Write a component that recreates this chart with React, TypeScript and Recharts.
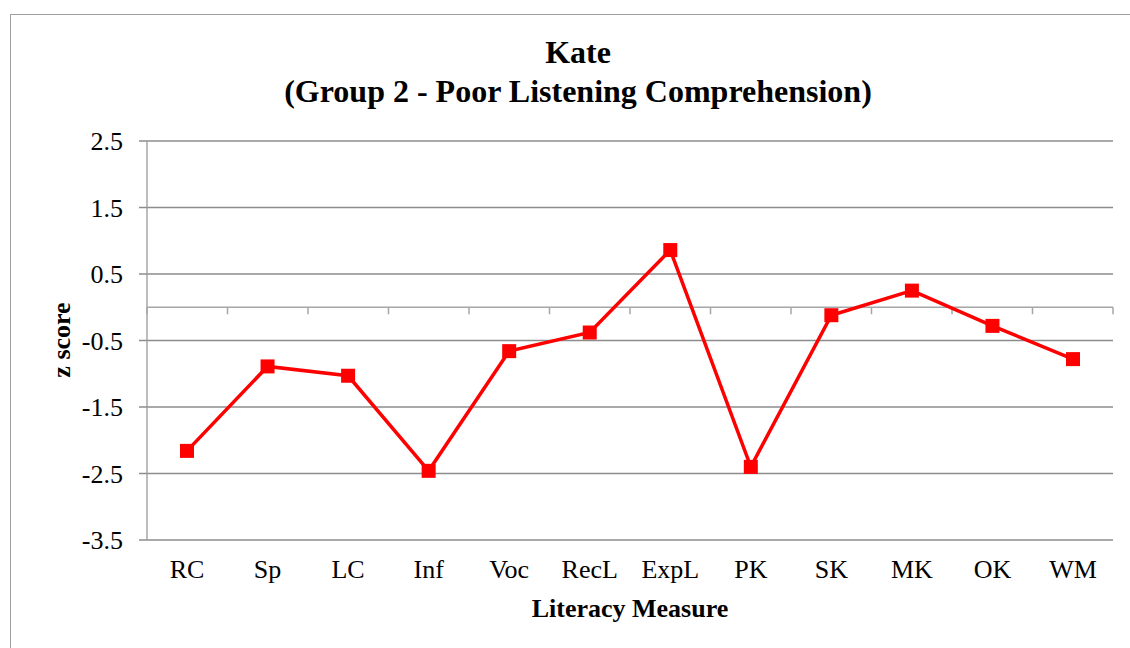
import React from 'react'
import {
  LineChart,
  Line,
  XAxis,
  YAxis,
  CartesianGrid,
  ReferenceLine,
} from 'recharts'

const CATEGORIES = ['RC', 'Sp', 'LC', 'Inf', 'Voc', 'RecL', 'ExpL', 'PK', 'SK', 'MK', 'OK', 'WM']
const Z_SCORES = [-2.16, -0.89, -1.03, -2.46, -0.66, -0.38, 0.86, -2.4, -0.12, 0.25, -0.28, -0.78]
const Y_TICKS = [-3.5, -2.5, -1.5, -0.5, 0.5, 1.5, 2.5]

const FONT = '"Liberation Serif", "Times New Roman", serif'
const GRID = '#8c8c8c'
const AXIS = '#a6a6a6'

const data = CATEGORIES.map((name, i) => ({ name, z: Z_SCORES[i] }))

// square marker
const SquareDot = (props: any) => {
  const { cx, cy } = props
  if (cx == null || cy == null) return null
  const s = 14
  return <rect x={cx - s / 2} y={cy - s / 2} width={s} height={s} fill="#ff0000" />
}

// category axis drawn at z = 0 with tick marks between categories
const ZeroAxis = (props: any) => {
  const { x1, y1, x2 } = props
  const n = CATEGORIES.length
  const step = (x2 - x1) / n
  const ticks = []
  for (let i = 0; i <= n; i++) {
    const x = x1 + step * i
    ticks.push(<line key={i} x1={x} y1={y1} x2={x} y2={y1 + 7} stroke={AXIS} strokeWidth={1.5} />)
  }
  return (
    <g>
      <line x1={x1} y1={y1} x2={x2} y2={y1} stroke={AXIS} strokeWidth={1.5} />
      {ticks}
    </g>
  )
}

export default function App() {
  return (
    <div style={{ position: 'absolute', left: 0, top: 0, width: 1130, height: 648, overflow: 'hidden', background: '#fff', fontFamily: FONT }}>
      <div style={{ position: 'absolute', left: 10, top: 14, width: 1140, height: 700, borderLeft: '1.5px solid #a0a0a0', borderTop: '1.5px solid #a0a0a0' }} />
      <div style={{ position: 'absolute', left: 0, width: 1156, top: 33, textAlign: 'center', fontWeight: 'bold', fontSize: 32, lineHeight: '39px', color: '#000' }}>
        Kate
        <br />
        (Group 2 - Poor Listening Comprehension)
      </div>
      <div style={{ position: 'absolute', left: 147, width: 966, top: 593, textAlign: 'center', fontWeight: 'bold', fontSize: 26, lineHeight: '32px', color: '#000' }}>
        Literacy Measure
      </div>
      <div style={{ position: 'absolute', left: 62, top: 340, transform: 'translate(-50%, -50%) rotate(-90deg)', whiteSpace: 'nowrap', fontWeight: 'bold', fontSize: 26, color: '#000' }}>
        z score
      </div>
      <div style={{ position: 'absolute', left: 0, top: 0 }}>
        <LineChart width={1130} height={648} data={data} margin={{ top: 141, right: 17, bottom: 48, left: 10 }}>
          <CartesianGrid vertical={false} stroke={GRID} strokeWidth={1.5} horizontalValues={Y_TICKS} />
          <XAxis
            dataKey="name"
            axisLine={false}
            tickLine={false}
            tickSize={0}
            tickMargin={20}
            height={60}
            interval={0}
            padding={{ left: 40, right: 40 }}
            tick={{ fill: '#000', fontSize: 26, fontFamily: FONT }}
          />
          <YAxis
            type="number"
            domain={[-3.5, 2.5]}
            ticks={Y_TICKS}
            width={137}
            interval={0}
            tickSize={8}
            tickMargin={16}
            axisLine={{ stroke: AXIS, strokeWidth: 1.5 }}
            tickLine={{ stroke: GRID, strokeWidth: 1.5 }}
            tick={{ fill: '#000', fontSize: 26, fontFamily: FONT }}
          />
          <ReferenceLine y={0} shape={ZeroAxis} />
          <Line
            type="linear"
            dataKey="z"
            stroke="#ff0000"
            strokeWidth={3.5}
            dot={<SquareDot />}
            activeDot={false}
            isAnimationActive={false}
          />
        </LineChart>
      </div>
    </div>
  )
}
